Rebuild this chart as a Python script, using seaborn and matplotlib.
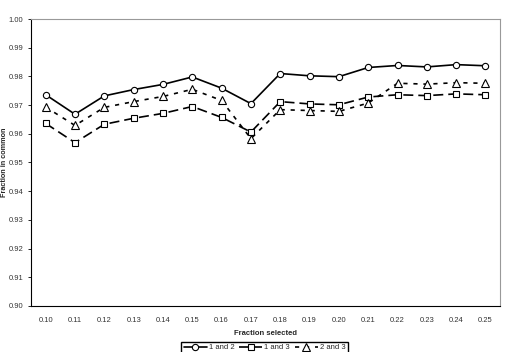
import pandas as pd
import seaborn as sns
import matplotlib.pyplot as plt
from matplotlib.ticker import FixedLocator

# Values
fractions = ["0.10", "0.11", "0.12", "0.13", "0.14", "0.15", "0.16", "0.17",
             "0.18", "0.19", "0.20", "0.21", "0.22", "0.23", "0.24", "0.25"]
set_12 = [0.9736, 0.9668, 0.9732, 0.9754, 0.9772, 0.9798, 0.9759, 0.9705,
          0.9810, 0.9802, 0.9799, 0.9831, 0.9838, 0.9833, 0.9841, 0.9837]
set_13 = [0.9636, 0.9569, 0.9633, 0.9654, 0.9671, 0.9695, 0.9657, 0.9606,
          0.9712, 0.9704, 0.9701, 0.9728, 0.9736, 0.9733, 0.9739, 0.9736]
set_23 = [0.9693, 0.9629, 0.9692, 0.9712, 0.9730, 0.9755, 0.9716, 0.9583,
          0.9684, 0.9681, 0.9678, 0.9707, 0.9776, 0.9773, 0.9778, 0.9776]

df = pd.DataFrame({"fraction": fractions, "1 and 2": set_12,
                   "1 and 3": set_13, "2 and 3": set_23})

sns.set_style("white")
plt.rcParams['font.family'] = ['Liberation Sans', 'DejaVu Sans']

fig = plt.figure(figsize=(5.05, 3.52), dpi=100)
ax = fig.add_axes([0.0614, 0.131, 0.929, 0.815])

styles = {
    "1 and 2": dict(marker="o", ms=4.5, ls="-"),
    "1 and 3": dict(marker="s", ms=4.3, ls=(0, (6, 3))),
    "2 and 3": dict(marker="^", ms=5.5, ls=(0, (2.5, 3.5))),
}
for name, st in styles.items():
    sns.lineplot(data=df, x="fraction", y=name, ax=ax, color="black",
                 linewidth=1.2, marker=st["marker"], markersize=st["ms"],
                 markerfacecolor="white", markeredgecolor="black",
                 markeredgewidth=0.8, linestyle=st["ls"], label=name,
                 legend=False, sort=False)

ax.set_xlim(-0.5, len(fractions) - 0.5)
ax.set_ylim(0.90, 1.00)
ax.set_yticks([0.90 + 0.01 * i for i in range(11)])
ax.set_yticklabels([f"{0.90 + 0.01 * i:.2f}" for i in range(11)])
ax.xaxis.set_minor_locator(FixedLocator([i - 0.5 for i in range(len(fractions) + 1)]))
ax.tick_params(axis="x", which="major", length=0, labelsize=5.5, pad=8)
ax.tick_params(axis="x", which="minor", length=2.5, width=0.6, direction="in",
               color="black")
ax.tick_params(axis="y", which="major", length=2.5, width=0.6, labelsize=5.5,
               color="black", left=True, pad=3)
for lab in ax.get_xticklabels() + ax.get_yticklabels():
    lab.set_color("#333333")

ax.set_xlabel("Fraction selected", fontsize=5.5, fontweight="bold", labelpad=4)
ax.set_ylabel("Fraction in common", fontsize=5.2, fontweight="bold")
ax.yaxis.set_label_coords(-0.049, 0.5)

for side in ["left", "bottom"]:
    ax.spines[side].set_color("black")
    ax.spines[side].set_linewidth(0.8)
for side in ["top", "right"]:
    ax.spines[side].set_color("#999999")
    ax.spines[side].set_linewidth(0.8)

handles, labels = ax.get_legend_handles_labels()
fig.legend(handles, labels, loc="upper center", bbox_to_anchor=(0.524, 0.04),
           ncol=3, fontsize=5.5, frameon=True, fancybox=False,
           edgecolor="black", handlelength=3, columnspacing=0.6,
           handletextpad=0.3, borderpad=0.3, framealpha=1)

fig.savefig("out.png", dpi=100)
